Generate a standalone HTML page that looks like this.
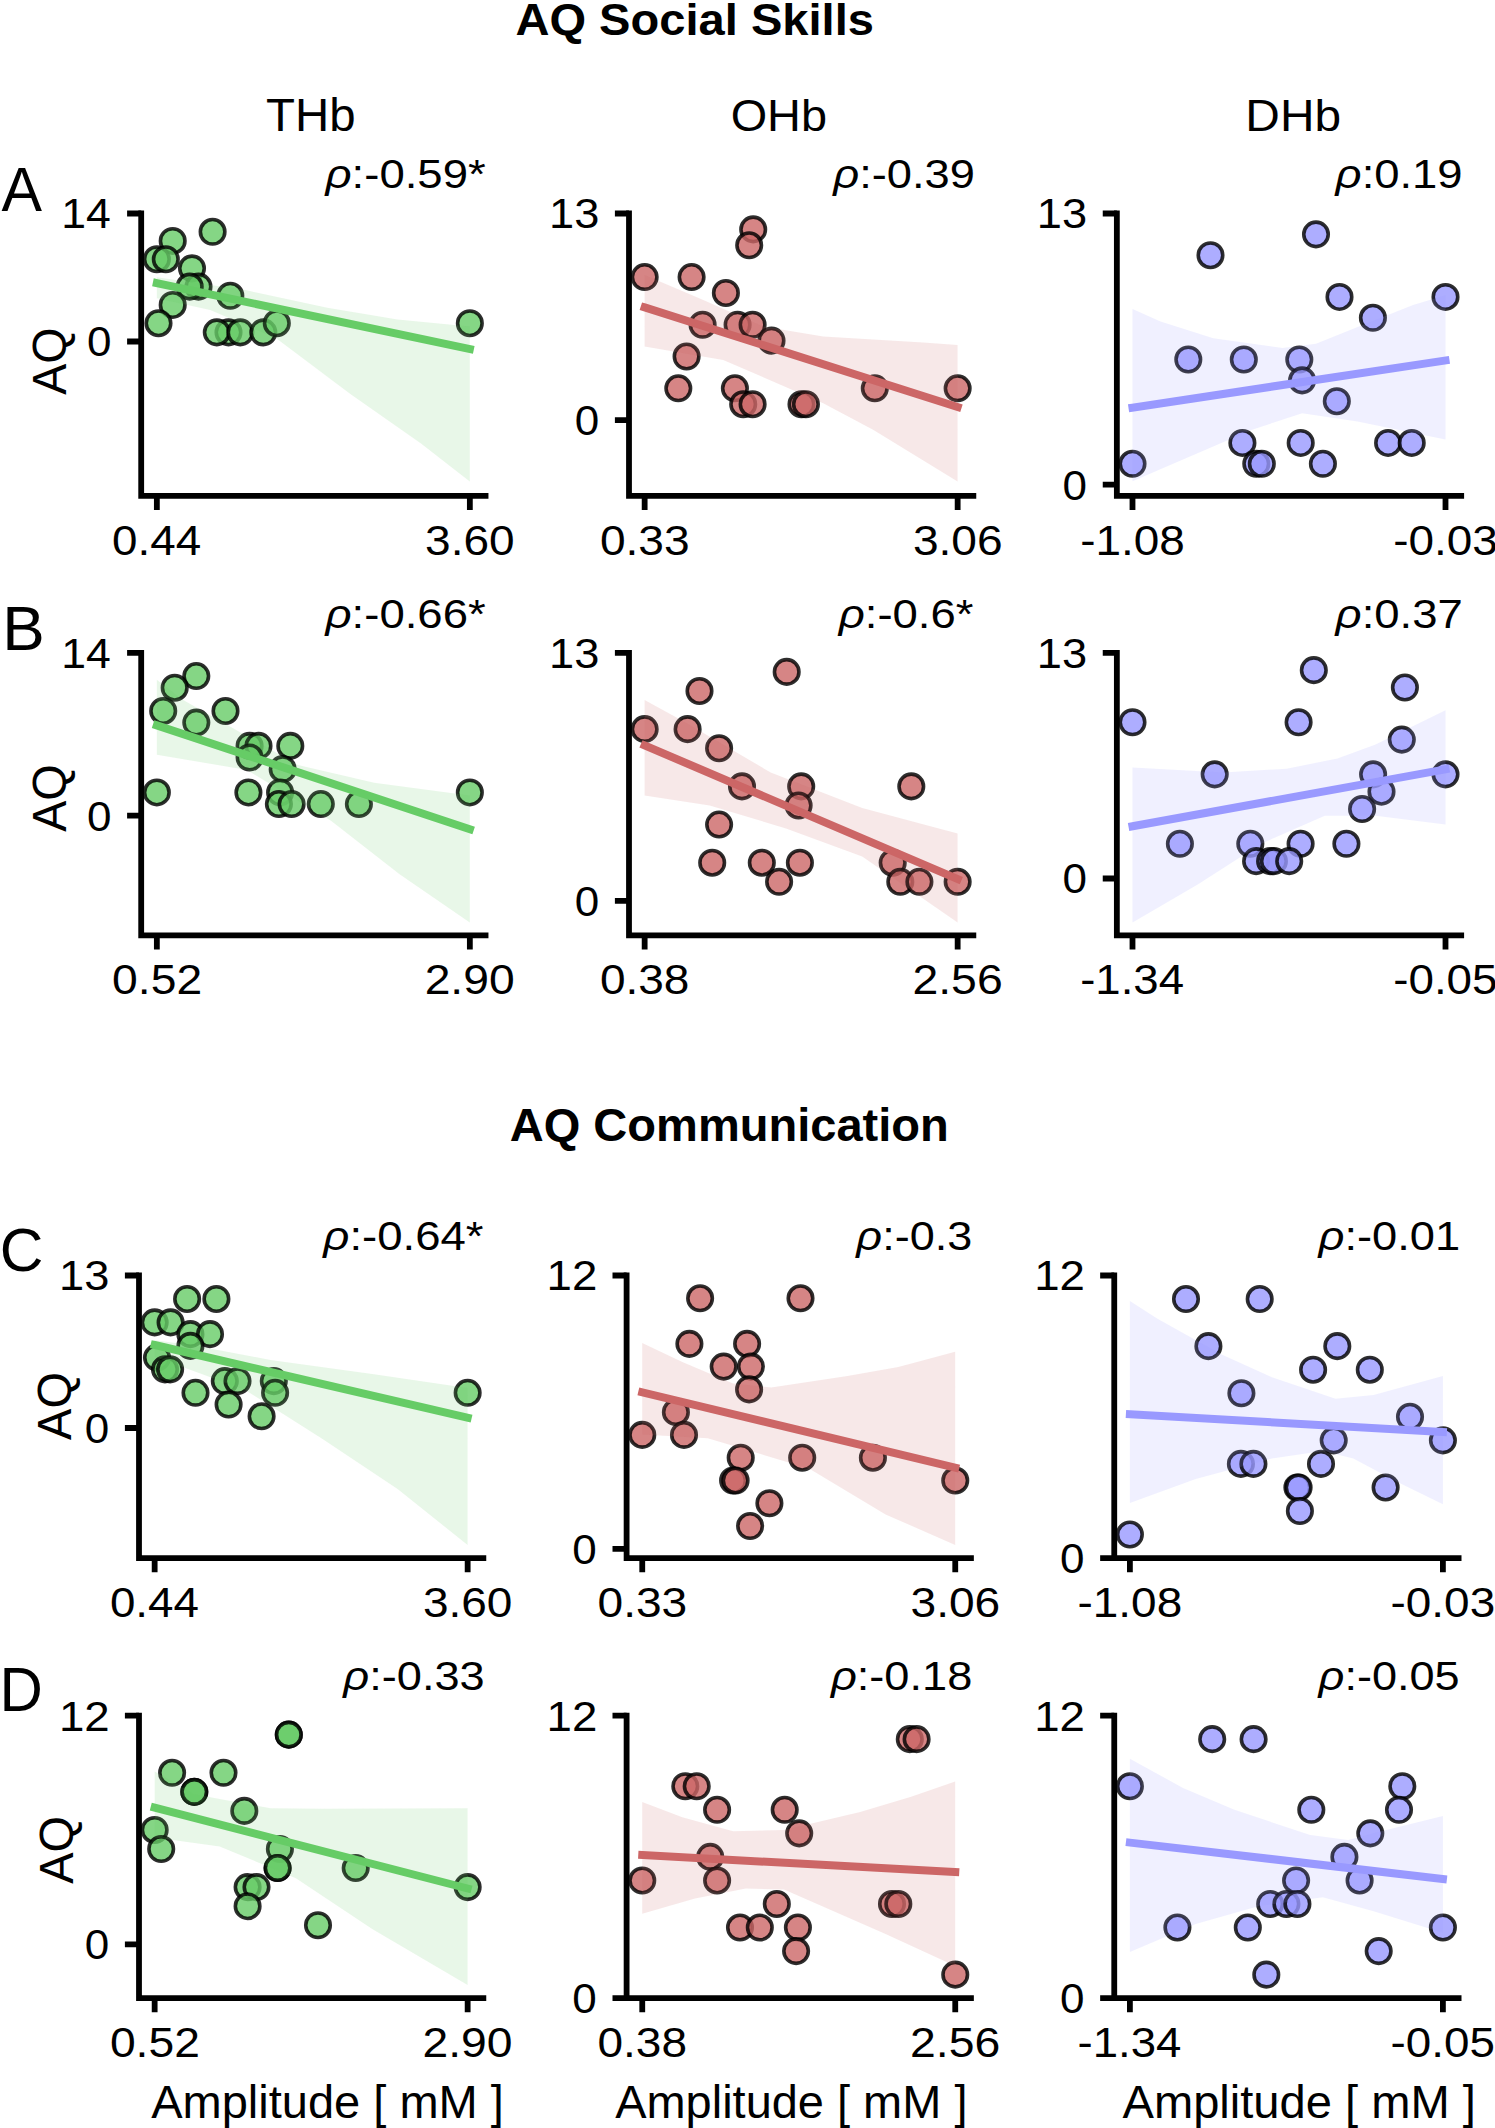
<!DOCTYPE html>
<html><head><meta charset="utf-8"><style>
html,body{margin:0;padding:0;background:#fff;}
svg{display:block;}
text{font-family:"Liberation Sans",sans-serif;fill:#000;}
</style></head><body>
<svg width="1495" height="2128" viewBox="0 0 1495 2128">
<rect width="1495" height="2128" fill="#fff"/>
<g fill="#66cc66" fill-opacity="0.8" stroke="#000" stroke-opacity="0.82" stroke-width="3.6"><circle cx="212.60" cy="231.79" r="12.25"/><circle cx="172.70" cy="240.93" r="12.25"/><circle cx="156.85" cy="259.21" r="12.25"/><circle cx="165.80" cy="259.21" r="12.25"/><circle cx="192.00" cy="268.36" r="12.25"/><circle cx="198.50" cy="286.64" r="12.25"/><circle cx="189.70" cy="286.64" r="12.25"/><circle cx="230.30" cy="295.79" r="12.25"/><circle cx="172.70" cy="304.93" r="12.25"/><circle cx="158.50" cy="323.21" r="12.25"/><circle cx="228.50" cy="332.36" r="12.25"/><circle cx="216.80" cy="332.36" r="12.25"/><circle cx="240.30" cy="332.36" r="12.25"/><circle cx="263.30" cy="332.36" r="12.25"/><circle cx="276.80" cy="323.21" r="12.25"/><circle cx="469.85" cy="323.21" r="12.25"/></g>
<polygon fill="#66cc66" fill-opacity="0.15" points="156.8,277.3 245.4,290.1 327.3,307.7 397.5,319.4 469.8,326.4 469.8,481.5 421.0,443.5 350.7,394.3 275.8,338.1 210.2,310.0 156.8,298.3"/>
<line x1="156.85" y1="283.10" x2="469.85" y2="349.10" stroke="#66cc66" stroke-width="8" stroke-linecap="square"/>
<path d="M141.20,495.80V213.50M141.20,495.80H485.55" fill="none" stroke="#000" stroke-width="5.8" stroke-linecap="square"/>
<path d="M141.20,213.50h-14.1M141.20,341.50h-14.1M156.85,495.80v14.1M469.85,495.80v14.1" fill="none" stroke="#000" stroke-width="5.8"/>
<g fill="#cc6666" fill-opacity="0.8" stroke="#000" stroke-opacity="0.82" stroke-width="3.6"><circle cx="753.20" cy="229.39" r="12.25"/><circle cx="749.20" cy="245.28" r="12.25"/><circle cx="644.65" cy="277.07" r="12.25"/><circle cx="691.60" cy="277.07" r="12.25"/><circle cx="725.90" cy="292.96" r="12.25"/><circle cx="702.60" cy="324.75" r="12.25"/><circle cx="737.60" cy="324.75" r="12.25"/><circle cx="752.60" cy="324.75" r="12.25"/><circle cx="771.50" cy="340.64" r="12.25"/><circle cx="686.60" cy="356.53" r="12.25"/><circle cx="678.30" cy="388.32" r="12.25"/><circle cx="734.90" cy="388.32" r="12.25"/><circle cx="743.20" cy="404.21" r="12.25"/><circle cx="752.60" cy="404.21" r="12.25"/><circle cx="801.50" cy="404.21" r="12.25"/><circle cx="805.90" cy="404.21" r="12.25"/><circle cx="874.80" cy="388.32" r="12.25"/><circle cx="957.65" cy="388.32" r="12.25"/></g>
<polygon fill="#cc6666" fill-opacity="0.15" points="644.6,274.9 703.3,299.9 763.2,326.5 823.2,336.5 923.1,342.5 957.6,344.9 957.6,481.5 873.1,429.8 823.2,403.2 723.2,359.9 644.6,346.5"/>
<line x1="644.65" y1="307.40" x2="957.65" y2="407.00" stroke="#cc6666" stroke-width="8" stroke-linecap="square"/>
<path d="M629.00,495.80V213.50M629.00,495.80H973.35" fill="none" stroke="#000" stroke-width="5.8" stroke-linecap="square"/>
<path d="M629.00,213.50h-14.1M629.00,420.10h-14.1M644.65,495.80v14.1M957.65,495.80v14.1" fill="none" stroke="#000" stroke-width="5.8"/>
<g fill="#9999ff" fill-opacity="0.8" stroke="#000" stroke-opacity="0.82" stroke-width="3.6"><circle cx="1316.00" cy="234.36" r="12.25"/><circle cx="1210.50" cy="255.22" r="12.25"/><circle cx="1339.50" cy="296.93" r="12.25"/><circle cx="1445.50" cy="296.93" r="12.25"/><circle cx="1372.90" cy="317.79" r="12.25"/><circle cx="1188.30" cy="359.50" r="12.25"/><circle cx="1243.80" cy="359.50" r="12.25"/><circle cx="1299.30" cy="359.50" r="12.25"/><circle cx="1302.10" cy="380.36" r="12.25"/><circle cx="1336.80" cy="401.22" r="12.25"/><circle cx="1242.40" cy="442.93" r="12.25"/><circle cx="1300.70" cy="442.93" r="12.25"/><circle cx="1388.10" cy="442.93" r="12.25"/><circle cx="1411.70" cy="442.93" r="12.25"/><circle cx="1132.50" cy="463.79" r="12.25"/><circle cx="1256.30" cy="463.79" r="12.25"/><circle cx="1261.80" cy="463.79" r="12.25"/><circle cx="1322.90" cy="463.79" r="12.25"/></g>
<polygon fill="#9999ff" fill-opacity="0.15" points="1132.5,309.1 1160.5,321.6 1213.2,338.2 1282.6,347.9 1316.0,343.8 1357.6,327.1 1413.1,304.9 1445.5,295.2 1445.5,439.5 1357.6,421.5 1302.1,413.2 1252.1,429.8 1213.2,446.5 1132.5,481.2"/>
<line x1="1132.50" y1="407.60" x2="1445.50" y2="360.50" stroke="#9999ff" stroke-width="8" stroke-linecap="square"/>
<path d="M1116.85,495.80V213.50M1116.85,495.80H1461.20" fill="none" stroke="#000" stroke-width="5.8" stroke-linecap="square"/>
<path d="M1116.85,213.50h-14.1M1116.85,484.65h-14.1M1132.50,495.80v14.1M1445.50,495.80v14.1" fill="none" stroke="#000" stroke-width="5.8"/>
<g fill="#66cc66" fill-opacity="0.8" stroke="#000" stroke-opacity="0.82" stroke-width="3.6"><circle cx="196.30" cy="676.07" r="12.25"/><circle cx="174.70" cy="687.71" r="12.25"/><circle cx="163.20" cy="710.98" r="12.25"/><circle cx="225.50" cy="710.98" r="12.25"/><circle cx="196.30" cy="722.61" r="12.25"/><circle cx="249.60" cy="745.89" r="12.25"/><circle cx="258.50" cy="745.89" r="12.25"/><circle cx="290.30" cy="745.89" r="12.25"/><circle cx="249.60" cy="757.52" r="12.25"/><circle cx="282.70" cy="769.16" r="12.25"/><circle cx="156.85" cy="792.43" r="12.25"/><circle cx="248.40" cy="792.43" r="12.25"/><circle cx="280.10" cy="792.43" r="12.25"/><circle cx="278.90" cy="804.06" r="12.25"/><circle cx="291.60" cy="804.06" r="12.25"/><circle cx="320.80" cy="804.06" r="12.25"/><circle cx="358.90" cy="804.06" r="12.25"/><circle cx="469.85" cy="792.43" r="12.25"/></g>
<polygon fill="#66cc66" fill-opacity="0.15" points="156.8,679.7 181.0,698.8 297.9,764.9 374.2,782.7 469.8,795.4 469.8,922.5 399.6,874.2 331.0,820.8 247.1,770.0 156.8,754.7"/>
<line x1="156.85" y1="725.40" x2="469.85" y2="829.20" stroke="#66cc66" stroke-width="8" stroke-linecap="square"/>
<path d="M141.20,935.40V652.80M141.20,935.40H485.55" fill="none" stroke="#000" stroke-width="5.8" stroke-linecap="square"/>
<path d="M141.20,652.80h-14.1M141.20,815.70h-14.1M156.85,935.40v14.1M469.85,935.40v14.1" fill="none" stroke="#000" stroke-width="5.8"/>
<g fill="#cc6666" fill-opacity="0.8" stroke="#000" stroke-opacity="0.82" stroke-width="3.6"><circle cx="786.70" cy="671.88" r="12.25"/><circle cx="699.50" cy="690.97" r="12.25"/><circle cx="644.65" cy="729.14" r="12.25"/><circle cx="687.60" cy="729.14" r="12.25"/><circle cx="719.10" cy="748.22" r="12.25"/><circle cx="742.00" cy="786.39" r="12.25"/><circle cx="801.20" cy="786.39" r="12.25"/><circle cx="911.30" cy="786.39" r="12.25"/><circle cx="798.60" cy="805.48" r="12.25"/><circle cx="719.10" cy="824.56" r="12.25"/><circle cx="712.20" cy="862.73" r="12.25"/><circle cx="761.80" cy="862.73" r="12.25"/><circle cx="799.90" cy="862.73" r="12.25"/><circle cx="892.70" cy="862.73" r="12.25"/><circle cx="779.10" cy="881.82" r="12.25"/><circle cx="900.30" cy="881.82" r="12.25"/><circle cx="919.40" cy="881.82" r="12.25"/><circle cx="957.65" cy="881.82" r="12.25"/></g>
<polygon fill="#cc6666" fill-opacity="0.15" points="644.6,700.1 684.3,721.7 770.7,772.5 862.2,808.1 957.6,833.5 957.6,922.5 862.2,856.4 786.0,828.4 709.7,805.6 644.6,795.4"/>
<line x1="644.65" y1="745.40" x2="957.65" y2="879.00" stroke="#cc6666" stroke-width="8" stroke-linecap="square"/>
<path d="M629.00,935.40V652.80M629.00,935.40H973.35" fill="none" stroke="#000" stroke-width="5.8" stroke-linecap="square"/>
<path d="M629.00,652.80h-14.1M629.00,900.90h-14.1M644.65,935.40v14.1M957.65,935.40v14.1" fill="none" stroke="#000" stroke-width="5.8"/>
<g fill="#9999ff" fill-opacity="0.8" stroke="#000" stroke-opacity="0.82" stroke-width="3.6"><circle cx="1313.80" cy="670.16" r="12.25"/><circle cx="1404.90" cy="687.52" r="12.25"/><circle cx="1132.50" cy="722.25" r="12.25"/><circle cx="1298.60" cy="722.25" r="12.25"/><circle cx="1401.80" cy="739.61" r="12.25"/><circle cx="1214.70" cy="774.33" r="12.25"/><circle cx="1373.10" cy="774.33" r="12.25"/><circle cx="1445.50" cy="774.33" r="12.25"/><circle cx="1381.50" cy="791.69" r="12.25"/><circle cx="1362.10" cy="809.05" r="12.25"/><circle cx="1179.90" cy="843.78" r="12.25"/><circle cx="1250.30" cy="843.78" r="12.25"/><circle cx="1300.60" cy="843.78" r="12.25"/><circle cx="1346.40" cy="843.78" r="12.25"/><circle cx="1256.10" cy="861.14" r="12.25"/><circle cx="1270.10" cy="861.14" r="12.25"/><circle cx="1273.90" cy="861.14" r="12.25"/><circle cx="1289.20" cy="861.14" r="12.25"/></g>
<polygon fill="#9999ff" fill-opacity="0.15" points="1132.5,767.4 1223.1,772.5 1286.6,768.7 1337.5,758.5 1375.6,744.6 1445.5,710.2 1445.5,824.6 1375.6,815.7 1324.8,815.7 1261.2,843.7 1197.7,884.4 1132.5,922.5"/>
<line x1="1132.50" y1="826.30" x2="1445.50" y2="769.40" stroke="#9999ff" stroke-width="8" stroke-linecap="square"/>
<path d="M1116.85,935.40V652.80M1116.85,935.40H1461.20" fill="none" stroke="#000" stroke-width="5.8" stroke-linecap="square"/>
<path d="M1116.85,652.80h-14.1M1116.85,878.50h-14.1M1132.50,935.40v14.1M1445.50,935.40v14.1" fill="none" stroke="#000" stroke-width="5.8"/>
<g fill="#66cc66" fill-opacity="0.8" stroke="#000" stroke-opacity="0.82" stroke-width="3.6"><circle cx="187.10" cy="1298.96" r="12.25"/><circle cx="216.40" cy="1298.96" r="12.25"/><circle cx="154.65" cy="1322.42" r="12.25"/><circle cx="170.60" cy="1322.42" r="12.25"/><circle cx="190.40" cy="1334.15" r="12.25"/><circle cx="210.00" cy="1334.15" r="12.25"/><circle cx="190.40" cy="1345.88" r="12.25"/><circle cx="157.00" cy="1357.62" r="12.25"/><circle cx="165.00" cy="1369.35" r="12.25"/><circle cx="170.10" cy="1369.35" r="12.25"/><circle cx="195.50" cy="1392.81" r="12.25"/><circle cx="224.80" cy="1381.08" r="12.25"/><circle cx="237.50" cy="1381.08" r="12.25"/><circle cx="273.80" cy="1381.08" r="12.25"/><circle cx="275.10" cy="1392.81" r="12.25"/><circle cx="228.60" cy="1404.54" r="12.25"/><circle cx="261.60" cy="1416.27" r="12.25"/><circle cx="467.65" cy="1392.81" r="12.25"/></g>
<polygon fill="#66cc66" fill-opacity="0.15" points="154.7,1340.3 194.3,1345.4 270.5,1360.0 372.2,1374.0 467.6,1388.0 467.6,1545.0 397.6,1489.0 321.4,1438.2 245.1,1389.9 154.7,1356.8"/>
<line x1="154.65" y1="1345.00" x2="467.65" y2="1417.80" stroke="#66cc66" stroke-width="8" stroke-linecap="square"/>
<path d="M139.00,1558.10V1275.50M139.00,1558.10H483.35" fill="none" stroke="#000" stroke-width="5.8" stroke-linecap="square"/>
<path d="M139.00,1275.50h-14.1M139.00,1428.00h-14.1M154.65,1558.10v14.1M467.65,1558.10v14.1" fill="none" stroke="#000" stroke-width="5.8"/>
<g fill="#cc6666" fill-opacity="0.8" stroke="#000" stroke-opacity="0.82" stroke-width="3.6"><circle cx="700.10" cy="1298.28" r="12.25"/><circle cx="800.50" cy="1298.28" r="12.25"/><circle cx="689.40" cy="1343.83" r="12.25"/><circle cx="747.10" cy="1343.83" r="12.25"/><circle cx="723.70" cy="1366.60" r="12.25"/><circle cx="750.90" cy="1366.60" r="12.25"/><circle cx="749.10" cy="1389.38" r="12.25"/><circle cx="675.90" cy="1412.15" r="12.25"/><circle cx="642.25" cy="1434.92" r="12.25"/><circle cx="684.00" cy="1434.92" r="12.25"/><circle cx="740.70" cy="1457.70" r="12.25"/><circle cx="802.20" cy="1457.70" r="12.25"/><circle cx="872.90" cy="1457.70" r="12.25"/><circle cx="733.10" cy="1480.47" r="12.25"/><circle cx="735.60" cy="1480.47" r="12.25"/><circle cx="955.25" cy="1480.47" r="12.25"/><circle cx="769.40" cy="1503.25" r="12.25"/><circle cx="750.10" cy="1526.02" r="12.25"/></g>
<polygon fill="#cc6666" fill-opacity="0.15" points="642.2,1342.9 682.3,1361.9 733.1,1383.5 771.2,1387.4 847.5,1375.9 898.3,1367.0 955.2,1351.8 955.2,1545.0 885.6,1514.4 809.4,1468.7 707.7,1438.2 642.2,1434.4"/>
<line x1="642.25" y1="1392.30" x2="955.25" y2="1467.70" stroke="#cc6666" stroke-width="8" stroke-linecap="square"/>
<path d="M626.60,1558.10V1275.50M626.60,1558.10H970.95" fill="none" stroke="#000" stroke-width="5.8" stroke-linecap="square"/>
<path d="M626.60,1275.50h-14.1M626.60,1548.80h-14.1M642.25,1558.10v14.1M955.25,1558.10v14.1" fill="none" stroke="#000" stroke-width="5.8"/>
<g fill="#9999ff" fill-opacity="0.8" stroke="#000" stroke-opacity="0.82" stroke-width="3.6"><circle cx="1186.00" cy="1299.05" r="12.25"/><circle cx="1259.70" cy="1299.05" r="12.25"/><circle cx="1208.40" cy="1346.15" r="12.25"/><circle cx="1337.30" cy="1346.15" r="12.25"/><circle cx="1313.10" cy="1369.70" r="12.25"/><circle cx="1369.80" cy="1369.70" r="12.25"/><circle cx="1241.40" cy="1393.25" r="12.25"/><circle cx="1410.00" cy="1416.80" r="12.25"/><circle cx="1333.70" cy="1440.35" r="12.25"/><circle cx="1442.90" cy="1440.35" r="12.25"/><circle cx="1240.90" cy="1463.90" r="12.25"/><circle cx="1253.40" cy="1463.90" r="12.25"/><circle cx="1321.00" cy="1463.90" r="12.25"/><circle cx="1297.40" cy="1487.45" r="12.25"/><circle cx="1298.60" cy="1487.45" r="12.25"/><circle cx="1385.60" cy="1487.45" r="12.25"/><circle cx="1299.90" cy="1511.00" r="12.25"/><circle cx="1129.90" cy="1534.55" r="12.25"/></g>
<polygon fill="#9999ff" fill-opacity="0.15" points="1129.9,1300.9 1157.5,1318.7 1221.1,1354.3 1271.9,1377.2 1335.5,1398.8 1373.6,1395.0 1442.9,1375.9 1442.9,1504.3 1399.0,1482.7 1353.3,1458.5 1322.8,1450.9 1271.9,1458.5 1195.7,1478.9 1129.9,1503.0"/>
<line x1="1129.90" y1="1414.20" x2="1442.90" y2="1432.05" stroke="#9999ff" stroke-width="8" stroke-linecap="square"/>
<path d="M1114.25,1558.10V1275.50M1114.25,1558.10H1458.60" fill="none" stroke="#000" stroke-width="5.8" stroke-linecap="square"/>
<path d="M1114.25,1275.50h-14.1M1114.25,1558.10h-14.1M1129.90,1558.10v14.1M1442.90,1558.10v14.1" fill="none" stroke="#000" stroke-width="5.8"/>
<g fill="#66cc66" fill-opacity="0.8" stroke="#000" stroke-opacity="0.82" stroke-width="3.6"><circle cx="288.80" cy="1734.66" r="12.25"/><circle cx="288.80" cy="1734.66" r="12.25"/><circle cx="172.10" cy="1772.77" r="12.25"/><circle cx="223.50" cy="1772.77" r="12.25"/><circle cx="194.30" cy="1791.83" r="12.25"/><circle cx="194.30" cy="1791.83" r="12.25"/><circle cx="244.30" cy="1810.89" r="12.25"/><circle cx="154.65" cy="1829.95" r="12.25"/><circle cx="161.20" cy="1849.01" r="12.25"/><circle cx="279.90" cy="1849.01" r="12.25"/><circle cx="277.60" cy="1868.07" r="12.25"/><circle cx="277.60" cy="1868.07" r="12.25"/><circle cx="355.70" cy="1868.07" r="12.25"/><circle cx="247.60" cy="1887.12" r="12.25"/><circle cx="256.50" cy="1887.12" r="12.25"/><circle cx="247.60" cy="1906.18" r="12.25"/><circle cx="318.00" cy="1925.24" r="12.25"/><circle cx="467.65" cy="1887.12" r="12.25"/></g>
<polygon fill="#66cc66" fill-opacity="0.15" points="154.7,1771.4 194.3,1794.3 270.5,1808.3 321.4,1808.8 467.6,1808.3 467.6,1985.0 372.2,1929.0 295.9,1878.2 219.7,1846.4 154.7,1837.5"/>
<line x1="154.65" y1="1807.60" x2="467.65" y2="1888.50" stroke="#66cc66" stroke-width="8" stroke-linecap="square"/>
<path d="M139.00,1998.20V1715.60M139.00,1998.20H483.35" fill="none" stroke="#000" stroke-width="5.8" stroke-linecap="square"/>
<path d="M139.00,1715.60h-14.1M139.00,1944.30h-14.1M154.65,1998.20v14.1M467.65,1998.20v14.1" fill="none" stroke="#000" stroke-width="5.8"/>
<g fill="#cc6666" fill-opacity="0.8" stroke="#000" stroke-opacity="0.82" stroke-width="3.6"><circle cx="909.80" cy="1739.15" r="12.25"/><circle cx="916.60" cy="1739.15" r="12.25"/><circle cx="685.30" cy="1786.25" r="12.25"/><circle cx="696.70" cy="1786.25" r="12.25"/><circle cx="717.10" cy="1809.80" r="12.25"/><circle cx="784.70" cy="1809.80" r="12.25"/><circle cx="799.20" cy="1833.35" r="12.25"/><circle cx="710.20" cy="1856.90" r="12.25"/><circle cx="642.25" cy="1880.45" r="12.25"/><circle cx="717.10" cy="1880.45" r="12.25"/><circle cx="776.80" cy="1904.00" r="12.25"/><circle cx="892.00" cy="1904.00" r="12.25"/><circle cx="898.30" cy="1904.00" r="12.25"/><circle cx="740.00" cy="1927.55" r="12.25"/><circle cx="759.80" cy="1927.55" r="12.25"/><circle cx="797.90" cy="1927.55" r="12.25"/><circle cx="796.10" cy="1951.10" r="12.25"/><circle cx="955.25" cy="1974.65" r="12.25"/></g>
<polygon fill="#cc6666" fill-opacity="0.15" points="642.2,1801.9 682.3,1817.2 733.1,1831.2 784.0,1829.9 860.2,1812.1 911.1,1796.8 955.2,1781.6 955.2,1965.9 885.6,1934.1 784.0,1889.6 745.8,1888.4 695.0,1898.5 642.2,1913.8"/>
<line x1="642.25" y1="1855.00" x2="955.25" y2="1872.10" stroke="#cc6666" stroke-width="8" stroke-linecap="square"/>
<path d="M626.60,1998.20V1715.60M626.60,1998.20H970.95" fill="none" stroke="#000" stroke-width="5.8" stroke-linecap="square"/>
<path d="M626.60,1715.60h-14.1M626.60,1998.20h-14.1M642.25,1998.20v14.1M955.25,1998.20v14.1" fill="none" stroke="#000" stroke-width="5.8"/>
<g fill="#9999ff" fill-opacity="0.8" stroke="#000" stroke-opacity="0.82" stroke-width="3.6"><circle cx="1212.20" cy="1739.15" r="12.25"/><circle cx="1253.60" cy="1739.15" r="12.25"/><circle cx="1129.90" cy="1786.25" r="12.25"/><circle cx="1402.30" cy="1786.25" r="12.25"/><circle cx="1311.30" cy="1809.80" r="12.25"/><circle cx="1399.00" cy="1809.80" r="12.25"/><circle cx="1370.30" cy="1833.35" r="12.25"/><circle cx="1344.40" cy="1856.90" r="12.25"/><circle cx="1296.10" cy="1880.45" r="12.25"/><circle cx="1359.60" cy="1880.45" r="12.25"/><circle cx="1270.20" cy="1904.00" r="12.25"/><circle cx="1286.40" cy="1904.00" r="12.25"/><circle cx="1297.40" cy="1904.00" r="12.25"/><circle cx="1177.40" cy="1927.55" r="12.25"/><circle cx="1247.80" cy="1927.55" r="12.25"/><circle cx="1442.90" cy="1927.55" r="12.25"/><circle cx="1378.70" cy="1951.10" r="12.25"/><circle cx="1266.30" cy="1974.65" r="12.25"/></g>
<polygon fill="#9999ff" fill-opacity="0.15" points="1129.9,1758.7 1183.0,1788.0 1233.8,1809.6 1310.1,1835.0 1348.2,1840.1 1386.3,1829.9 1442.9,1815.9 1442.9,1932.8 1373.6,1911.2 1322.8,1897.3 1259.2,1906.1 1195.7,1923.9 1129.9,1951.9"/>
<line x1="1129.90" y1="1842.60" x2="1442.90" y2="1879.00" stroke="#9999ff" stroke-width="8" stroke-linecap="square"/>
<path d="M1114.25,1998.20V1715.60M1114.25,1998.20H1458.60" fill="none" stroke="#000" stroke-width="5.8" stroke-linecap="square"/>
<path d="M1114.25,1715.60h-14.1M1114.25,1998.20h-14.1M1129.90,1998.20v14.1M1442.90,1998.20v14.1" fill="none" stroke="#000" stroke-width="5.8"/>
<text transform="translate(112.12,554.60) scale(1.0749,1)" font-size="42.57" font-weight="normal">0.44</text>
<text transform="translate(425.11,554.60) scale(1.0807,1)" font-size="42.57" font-weight="normal">3.60</text>
<text transform="translate(61.26,228.40) scale(1.0316,1)" font-size="43.19" font-weight="normal">14</text>
<text transform="translate(86.94,356.40) scale(1.0336,1)" font-size="42.57" font-weight="normal">0</text>
<text transform="translate(325.53,188.20) scale(1.1026,1)" font-size="41.29" font-weight="normal"><tspan font-style="italic">ρ</tspan>:-0.59*</text>
<text transform="translate(599.90,554.60) scale(1.0836,1)" font-size="42.57" font-weight="normal">0.33</text>
<text transform="translate(912.90,554.60) scale(1.0836,1)" font-size="42.57" font-weight="normal">3.06</text>
<text transform="translate(549.01,228.40) scale(1.0624,1)" font-size="42.57" font-weight="normal">13</text>
<text transform="translate(574.74,435.00) scale(1.0336,1)" font-size="42.57" font-weight="normal">0</text>
<text transform="translate(833.32,188.20) scale(1.0957,1)" font-size="41.29" font-weight="normal"><tspan font-style="italic">ρ</tspan>:-0.39</text>
<text transform="translate(1080.18,554.60) scale(1.0780,1)" font-size="42.57" font-weight="normal">-1.08</text>
<text transform="translate(1393.18,554.60) scale(1.0780,1)" font-size="42.57" font-weight="normal">-0.03</text>
<text transform="translate(1036.86,228.40) scale(1.0624,1)" font-size="42.57" font-weight="normal">13</text>
<text transform="translate(1062.59,499.55) scale(1.0336,1)" font-size="42.57" font-weight="normal">0</text>
<text transform="translate(1335.62,188.20) scale(1.1000,1)" font-size="41.29" font-weight="normal"><tspan font-style="italic">ρ</tspan>:0.19</text>
<text transform="translate(112.10,994.20) scale(1.0865,1)" font-size="42.57" font-weight="normal">0.52</text>
<text transform="translate(424.64,994.20) scale(1.0865,1)" font-size="42.57" font-weight="normal">2.90</text>
<text transform="translate(61.26,667.70) scale(1.0316,1)" font-size="43.19" font-weight="normal">14</text>
<text transform="translate(86.94,830.60) scale(1.0336,1)" font-size="42.57" font-weight="normal">0</text>
<text transform="translate(325.53,627.50) scale(1.1026,1)" font-size="41.29" font-weight="normal"><tspan font-style="italic">ρ</tspan>:-0.66*</text>
<text transform="translate(599.91,994.20) scale(1.0807,1)" font-size="42.57" font-weight="normal">0.38</text>
<text transform="translate(912.43,994.20) scale(1.0894,1)" font-size="42.57" font-weight="normal">2.56</text>
<text transform="translate(549.01,667.70) scale(1.0624,1)" font-size="42.57" font-weight="normal">13</text>
<text transform="translate(574.74,915.80) scale(1.0336,1)" font-size="42.57" font-weight="normal">0</text>
<text transform="translate(838.77,627.50) scale(1.1011,1)" font-size="41.29" font-weight="normal"><tspan font-style="italic">ρ</tspan>:-0.6*</text>
<text transform="translate(1080.20,994.20) scale(1.0706,1)" font-size="42.57" font-weight="normal">-1.34</text>
<text transform="translate(1393.19,994.20) scale(1.0755,1)" font-size="42.57" font-weight="normal">-0.05</text>
<text transform="translate(1036.86,667.70) scale(1.0624,1)" font-size="42.57" font-weight="normal">13</text>
<text transform="translate(1062.59,893.40) scale(1.0336,1)" font-size="42.57" font-weight="normal">0</text>
<text transform="translate(1335.62,627.50) scale(1.1019,1)" font-size="41.29" font-weight="normal"><tspan font-style="italic">ρ</tspan>:0.37</text>
<text transform="translate(109.92,1616.90) scale(1.0749,1)" font-size="42.57" font-weight="normal">0.44</text>
<text transform="translate(422.91,1616.90) scale(1.0807,1)" font-size="42.57" font-weight="normal">3.60</text>
<text transform="translate(59.01,1290.40) scale(1.0624,1)" font-size="42.57" font-weight="normal">13</text>
<text transform="translate(84.74,1442.90) scale(1.0336,1)" font-size="42.57" font-weight="normal">0</text>
<text transform="translate(323.33,1250.20) scale(1.1026,1)" font-size="41.29" font-weight="normal"><tspan font-style="italic">ρ</tspan>:-0.64*</text>
<text transform="translate(597.50,1616.90) scale(1.0836,1)" font-size="42.57" font-weight="normal">0.33</text>
<text transform="translate(910.50,1616.90) scale(1.0836,1)" font-size="42.57" font-weight="normal">3.06</text>
<text transform="translate(546.57,1290.40) scale(1.0731,1)" font-size="42.57" font-weight="normal">12</text>
<text transform="translate(572.34,1563.70) scale(1.0336,1)" font-size="42.57" font-weight="normal">0</text>
<text transform="translate(856.36,1250.20) scale(1.0904,1)" font-size="41.29" font-weight="normal"><tspan font-style="italic">ρ</tspan>:-0.3</text>
<text transform="translate(1077.58,1616.90) scale(1.0780,1)" font-size="42.57" font-weight="normal">-1.08</text>
<text transform="translate(1390.58,1616.90) scale(1.0780,1)" font-size="42.57" font-weight="normal">-0.03</text>
<text transform="translate(1034.22,1290.40) scale(1.0731,1)" font-size="42.57" font-weight="normal">12</text>
<text transform="translate(1059.99,1573.00) scale(1.0336,1)" font-size="42.57" font-weight="normal">0</text>
<text transform="translate(1318.57,1250.20) scale(1.0957,1)" font-size="41.29" font-weight="normal"><tspan font-style="italic">ρ</tspan>:-0.01</text>
<text transform="translate(109.90,2057.00) scale(1.0865,1)" font-size="42.57" font-weight="normal">0.52</text>
<text transform="translate(422.44,2057.00) scale(1.0865,1)" font-size="42.57" font-weight="normal">2.90</text>
<text transform="translate(58.97,1730.50) scale(1.0731,1)" font-size="42.57" font-weight="normal">12</text>
<text transform="translate(84.74,1959.20) scale(1.0336,1)" font-size="42.57" font-weight="normal">0</text>
<text transform="translate(343.32,1690.30) scale(1.0939,1)" font-size="41.29" font-weight="normal"><tspan font-style="italic">ρ</tspan>:-0.33</text>
<text transform="translate(597.51,2057.00) scale(1.0807,1)" font-size="42.57" font-weight="normal">0.38</text>
<text transform="translate(910.03,2057.00) scale(1.0894,1)" font-size="42.57" font-weight="normal">2.56</text>
<text transform="translate(546.57,1730.50) scale(1.0731,1)" font-size="42.57" font-weight="normal">12</text>
<text transform="translate(572.34,2013.10) scale(1.0336,1)" font-size="42.57" font-weight="normal">0</text>
<text transform="translate(830.92,1690.30) scale(1.0939,1)" font-size="41.29" font-weight="normal"><tspan font-style="italic">ρ</tspan>:-0.18</text>
<text transform="translate(1077.60,2057.00) scale(1.0706,1)" font-size="42.57" font-weight="normal">-1.34</text>
<text transform="translate(1390.59,2057.00) scale(1.0755,1)" font-size="42.57" font-weight="normal">-0.05</text>
<text transform="translate(1034.22,1730.50) scale(1.0731,1)" font-size="42.57" font-weight="normal">12</text>
<text transform="translate(1059.99,2013.10) scale(1.0336,1)" font-size="42.57" font-weight="normal">0</text>
<text transform="translate(1318.57,1690.30) scale(1.0922,1)" font-size="41.29" font-weight="normal"><tspan font-style="italic">ρ</tspan>:-0.05</text>
<text transform="translate(1.40,210.90) scale(0.9793,1)" font-size="62.04" font-weight="normal">A</text>
<text transform="translate(2.30,650.20) scale(1.0134,1)" font-size="62.90" font-weight="normal">B</text>
<text transform="translate(-0.22,1271.00) scale(0.9845,1)" font-size="61.43" font-weight="normal">C</text>
<text transform="translate(-0.40,1710.60) scale(0.9606,1)" font-size="62.46" font-weight="normal">D</text>
<text transform="translate(515.42,35.30) scale(1.0473,1)" font-size="44.97" font-weight="bold">AQ Social Skills</text>
<text transform="translate(509.72,1140.70) scale(1.0337,1)" font-size="45.52" font-weight="bold">AQ Communication</text>
<text transform="translate(266.01,131.20) scale(1.0386,1)" font-size="45.66" font-weight="normal">THb</text>
<text transform="translate(730.69,131.10) scale(1.0420,1)" font-size="44.97" font-weight="normal">OHb</text>
<text transform="translate(1245.37,131.20) scale(1.0614,1)" font-size="45.10" font-weight="normal">DHb</text>
<text transform="translate(151.16,2117.70) scale(1.0178,1)" font-size="46.21" font-weight="normal">Amplitude [ mM ]</text>
<text transform="translate(615.17,2117.70) scale(1.0164,1)" font-size="46.21" font-weight="normal">Amplitude [ mM ]</text>
<text transform="translate(1122.46,2117.70) scale(1.0199,1)" font-size="46.21" font-weight="normal">Amplitude [ mM ]</text>
<text transform="translate(66.30,394.73) rotate(-90) scale(0.9668,1)" font-size="48.14" font-weight="normal">AQ</text>
<text transform="translate(66.30,831.83) rotate(-90) scale(0.9713,1)" font-size="48.14" font-weight="normal">AQ</text>
<text transform="translate(71.10,1439.93) rotate(-90) scale(0.9672,1)" font-size="48.57" font-weight="normal">AQ</text>
<text transform="translate(73.20,1883.83) rotate(-90) scale(0.9831,1)" font-size="47.71" font-weight="normal">AQ</text>
</svg></body></html>
